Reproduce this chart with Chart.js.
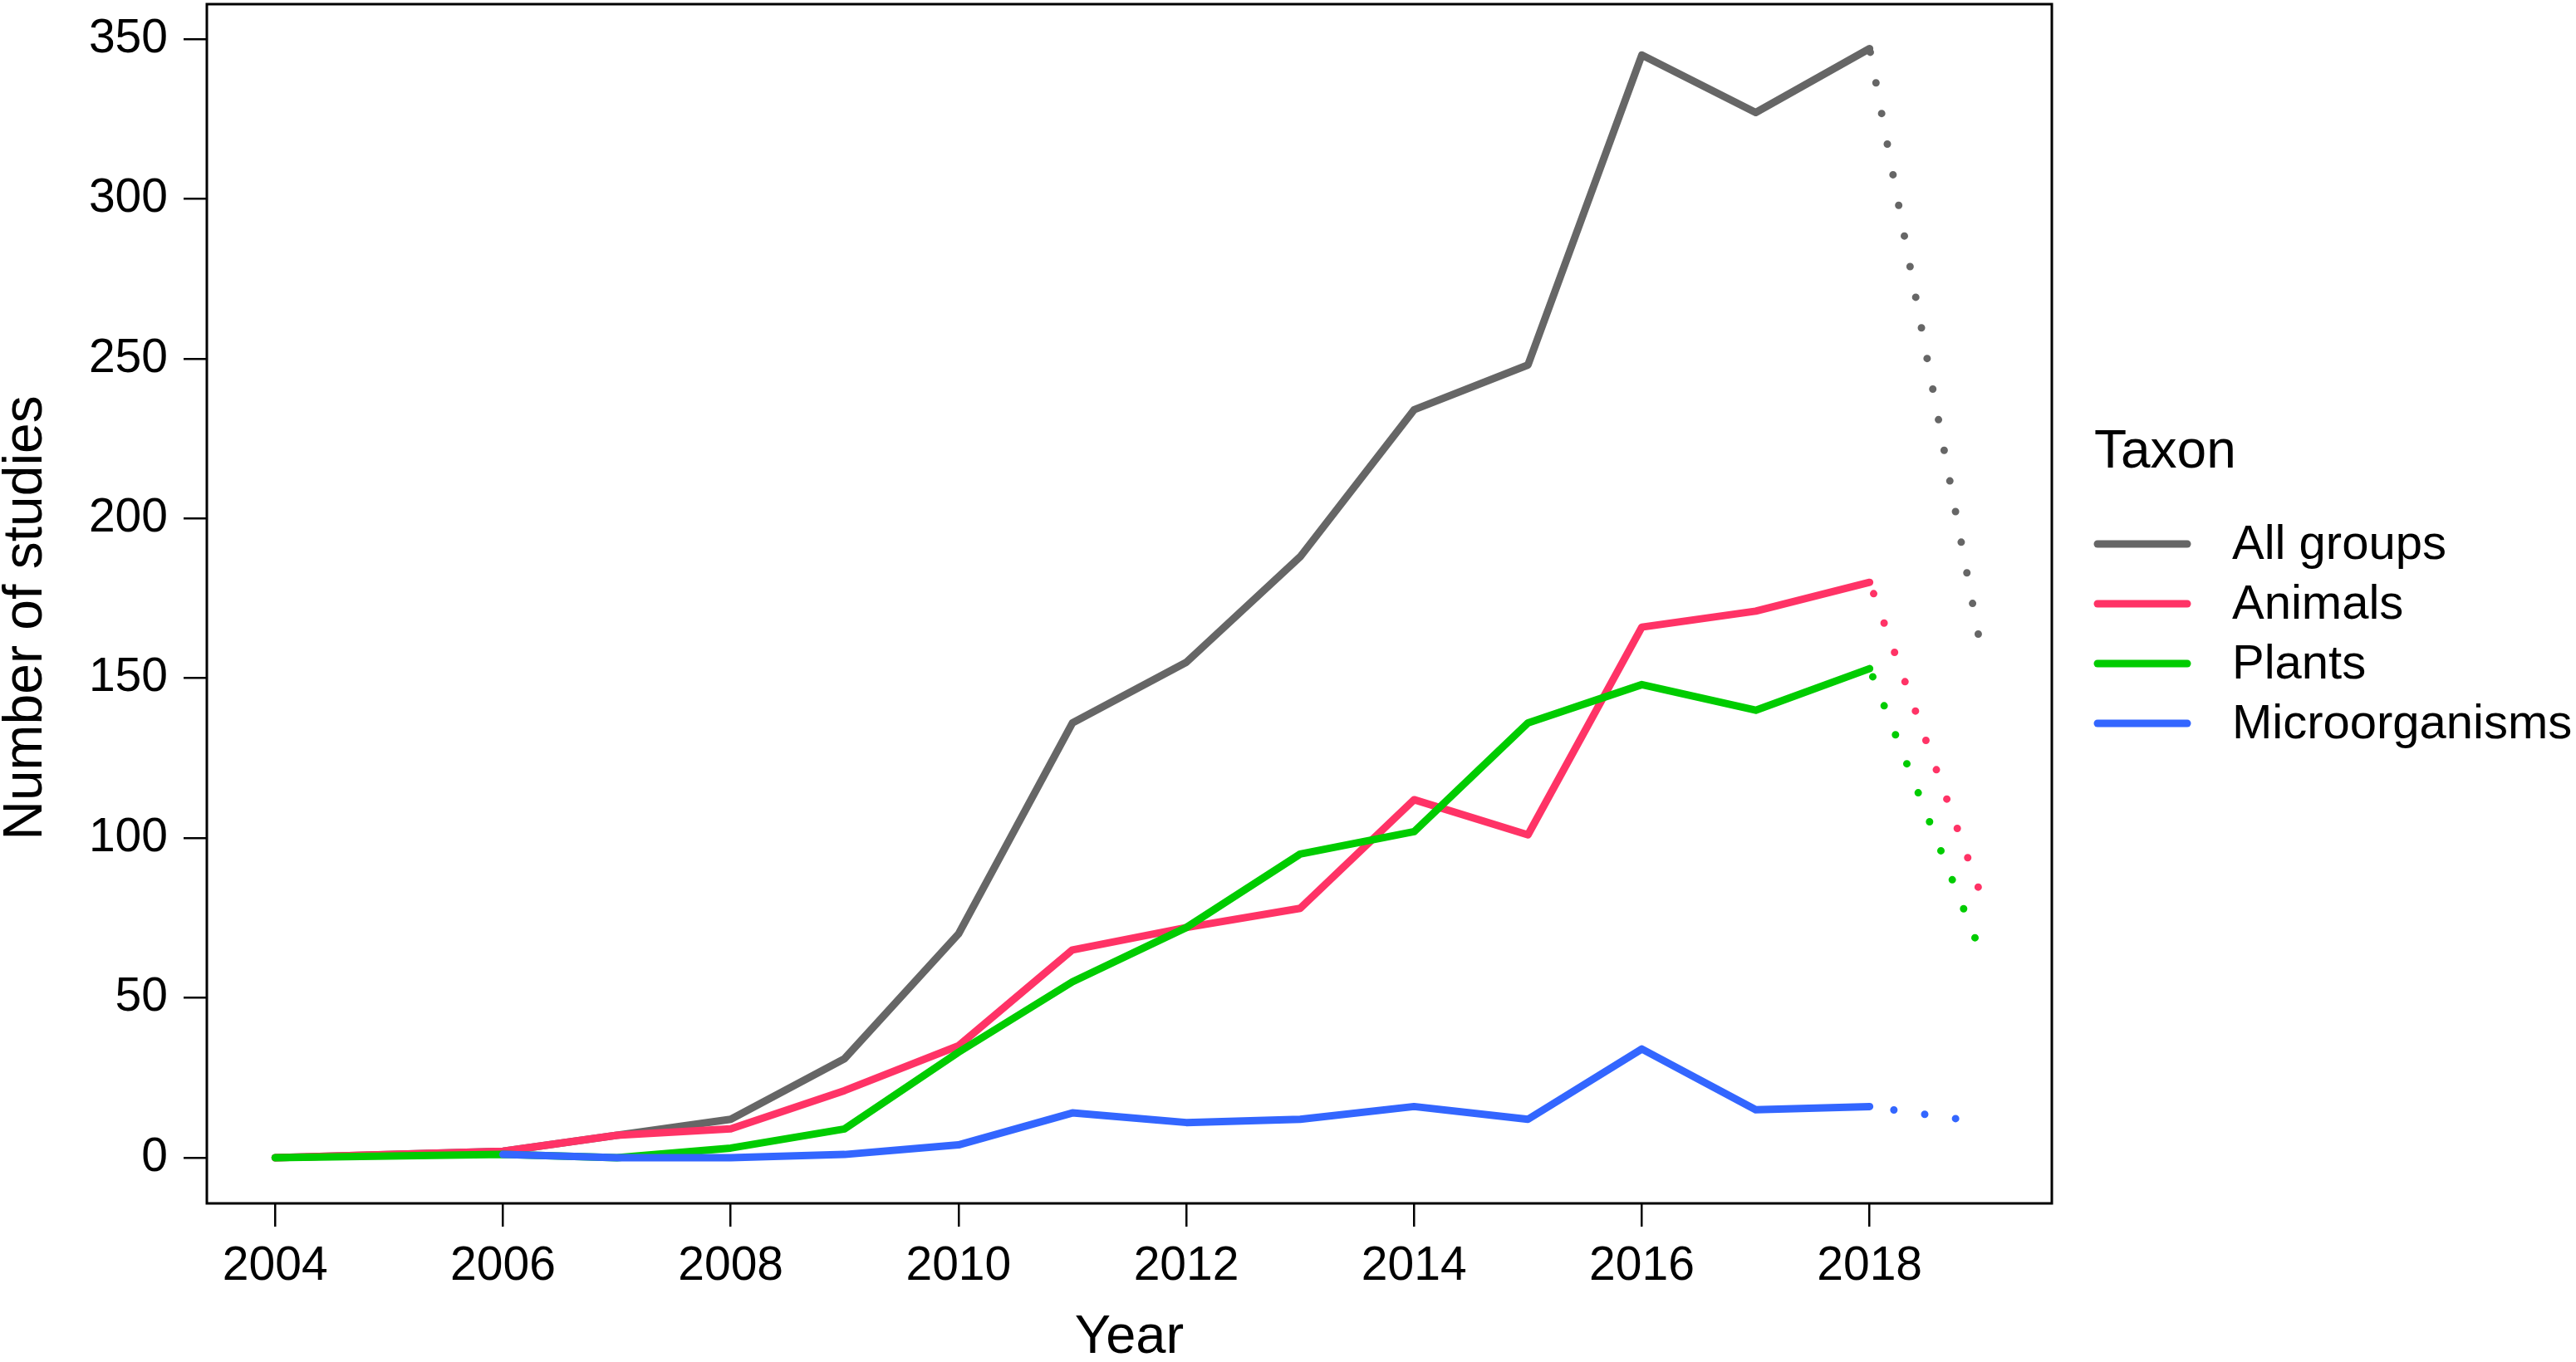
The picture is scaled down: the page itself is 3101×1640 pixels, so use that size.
<!DOCTYPE html>
<html lang="en">
<head>
  <meta charset="UTF-8" />
  <title>Number of studies per year by taxon</title>
  <script src="https://cdn.jsdelivr.net/npm/chart.js"></script>
  <style>
    html, body {
      margin: 0;
      padding: 0;
      background: #fff;
    }
    canvas {
      display: block;
    }
  </style>
</head>
<body>
  <canvas id="studiesChart" width="3101" height="1640"></canvas>

  <script>
    // years with data (no point for 2005); 2019 is the dotted projection
    const years = [2004, 2006, 2007, 2008, 2009, 2010, 2011, 2012, 2013, 2014, 2015, 2016, 2017, 2018, 2019];

    const allGroups = [0, 2, 7, 12, 31, 70, 136, 155, 188, 234, 248, 345, 327, 347, 155];
    const animals   = [0, 2, 7, 9, 21, 35, 65, 72, 78, 112, 101, 166, 171, 180, 80];
    const plants    = [0, 1, 0, 3, 9, 33, 55, 72, 95, 102, 136, 148, 140, 153, 62];
    const microbes  = [null, 1, 0, 0, 1, 4, 14, 11, 12, 16, 12, 34, 15, 16, 11];

    const seriesNames  = ["All groups", "Animals", "Plants", "Microorganisms"];
    const seriesColors = ["#666666", "#FF3366", "#00CC00", "#3366FF"];
    // phase of the dotted projection, so the dots sit where the original ones do
    const dotOffsets   = [33, 23, 27, 8];

    const xTicks = [2004, 2006, 2008, 2010, 2012, 2014, 2016, 2018];
    const yTicks = [0, 50, 100, 150, 200, 250, 300, 350];

    const legendTitle = "Taxon";
    const yTitle = "Number of studies";
    const FONT = '"Liberation Sans", Arial, Helvetica, sans-serif';
    const lastIndex = years.length - 1;

    function toPoints(values) {
      return years.map((yr, i) => ({ x: yr, y: values[i] }));
    }

    function makeDataset(i, values) {
      return {
        label: seriesNames[i],
        data: toPoints(values),
        borderColor: seriesColors[i],
        borderWidth: 9,
        borderCapStyle: "round",
        borderJoinStyle: "round",
        pointRadius: 0,
        tension: 0,
        fill: false,
        spanGaps: false,
        order: 4 - i,
        segment: {
          borderDash: ctx => ctx.p1DataIndex === lastIndex ? [0, 37.5] : undefined,
          borderDashOffset: ctx => ctx.p1DataIndex === lastIndex ? dotOffsets[i] : undefined
        }
      };
    }

    // box around the plot region, y axis title and the legend on the right
    const frameAndLegend = {
      id: "frameAndLegend",
      afterDraw(chart) {
        const { ctx, chartArea } = chart;
        ctx.save();
        ctx.strokeStyle = "#000";
        ctx.lineWidth = 3;
        ctx.strokeRect(chartArea.left, chartArea.top,
                       chartArea.right - chartArea.left, chartArea.bottom - chartArea.top);

        ctx.save();
        ctx.translate(32, 744);
        ctx.rotate(-Math.PI / 2);
        ctx.fillStyle = "#000";
        ctx.font = "66px " + FONT;
        ctx.textAlign = "center";
        ctx.textBaseline = "middle";
        ctx.fillText(yTitle, 0, 0);
        ctx.restore();

        const lx = 2521;
        ctx.fillStyle = "#000";
        ctx.textAlign = "left";
        ctx.textBaseline = "alphabetic";
        ctx.font = "64px " + FONT;
        ctx.fillText(legendTitle, lx, 563);

        ctx.font = "58px " + FONT;
        ctx.textBaseline = "middle";
        chart.data.datasets.forEach((ds, i) => {
          const y = 655 + i * 72;
          ctx.strokeStyle = ds.borderColor;
          ctx.lineWidth = 9;
          ctx.lineCap = "round";
          ctx.beginPath();
          ctx.moveTo(lx + 4, y);
          ctx.lineTo(lx + 112, y);
          ctx.stroke();
          ctx.fillStyle = "#000";
          ctx.fillText(ds.label, 2687, y + 2);
        });
        ctx.restore();
      }
    };

    const studiesChart = new Chart(document.getElementById("studiesChart"), {
      type: "line",
      data: {
        datasets: [
          makeDataset(0, allGroups),
          makeDataset(1, animals),
          makeDataset(2, plants),
          makeDataset(3, microbes)
        ]
      },
      options: {
        responsive: false,
        devicePixelRatio: 1,
        animation: false,
        layout: { padding: { left: 0, right: 631, top: 5, bottom: 0 } },
        plugins: {
          legend: { display: false },
          tooltip: { enabled: false }
        },
        scales: {
          x: {
            type: "linear",
            min: 2003.4,
            max: 2019.6,
            afterBuildTicks: scale => { scale.ticks = xTicks.map(v => ({ value: v })); },
            afterFit: scale => {
              scale.height = 191;
              scale.paddingLeft = 0;
              scale.paddingRight = 0;
            },
            ticks: {
              color: "#000",
              padding: 14,
              maxRotation: 0,
              font: { family: FONT, size: 57 },
              callback: v => String(v)
            },
            grid: {
              display: true,
              drawOnChartArea: false,
              drawTicks: true,
              tickLength: 28,
              color: "#000",
              lineWidth: 2.5
            },
            border: { display: false },
            title: {
              display: true,
              text: "Year",
              color: "#000",
              padding: 0,
              font: { family: FONT, size: 65, lineHeight: "58px" }
            }
          },
          y: {
            type: "linear",
            min: -14.3,
            max: 360.9,
            afterBuildTicks: scale => { scale.ticks = yTicks.map(v => ({ value: v })); },
            afterFit: scale => {
              scale.width = 249;
              scale.paddingTop = 0;
              scale.paddingBottom = 0;
            },
            ticks: {
              color: "#000",
              padding: 19,
              font: { family: FONT, size: 57 },
              callback: v => String(v)
            },
            grid: {
              display: true,
              drawOnChartArea: false,
              drawTicks: true,
              tickLength: 28,
              color: "#000",
              lineWidth: 2.5
            },
            border: { display: false },
            title: { display: false }
          }
        }
      },
      plugins: [frameAndLegend]
    });
  </script>
</body>
</html>
